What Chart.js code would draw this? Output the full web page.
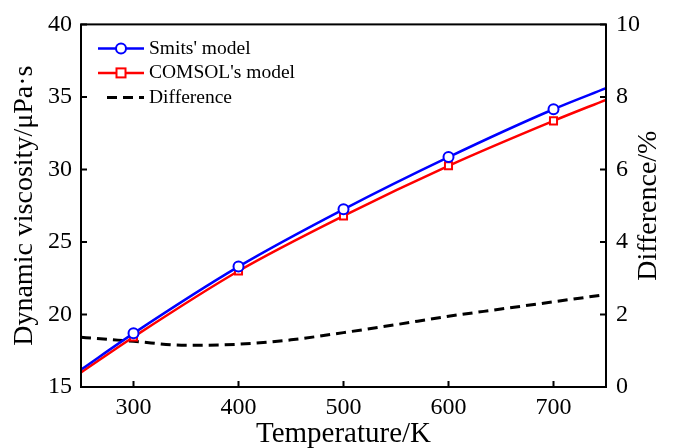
<!DOCTYPE html>
<html lang="en">
<head>
  <meta charset="UTF-8">
  <title>Dynamic viscosity vs temperature</title>
  <style>
    body { margin: 0; background: #fff; }
    .chart-box { width: 686px; height: 448px; }
  </style>
</head>
<body>
  <div class="chart-box"><canvas id="viscChart"></canvas></div>

  <script src="https://cdn.jsdelivr.net/npm/chart.js"></script>
  <script>
    // temperatures (K) and viscosities (uPa.s)
    const modelTemps = [250, 300, 400, 500, 600, 700, 750];
    const smitsVals = [16.2, 18.7, 23.3, 27.25, 30.85, 34.15, 35.6];
    const comsolVals = [16.0, 18.45, 23.0, 26.8, 30.25, 33.35, 34.8];
    const markerTemps = [300, 400, 500, 600, 700];

    // difference in %
    const diffTemps = [250, 300, 350, 400, 450, 500, 550, 600, 650, 700, 750];
    const diffVals = [1.37, 1.26, 1.15, 1.18, 1.3, 1.5, 1.72, 1.95, 2.15, 2.35, 2.55];

    const xTicks = [300, 400, 500, 600, 700];
    const yTicks = [15, 20, 25, 30, 35, 40];
    const y2Ticks = [0, 2, 4, 6, 8, 10];

    const serif = '"Liberation Serif", "Times New Roman", serif';

    const toPoints = (xs, ys) => xs.map((x, i) => ({ x: x, y: ys[i] }));
    const markerSize = ctx => markerTemps.includes(ctx.raw.x) ? 5 : 0;

    // frame, inward ticks and the right axis title (reads bottom to top)
    const framePlugin = {
      id: 'frame',
      afterDraw(chart) {
        const { ctx, chartArea: a, scales } = chart;
        ctx.save();
        ctx.strokeStyle = '#000';
        ctx.lineWidth = 2;
        ctx.strokeRect(a.left, a.top, a.right - a.left, a.bottom - a.top);
        ctx.beginPath();
        scales.x.ticks.forEach(t => {
          const px = scales.x.getPixelForValue(t.value);
          ctx.moveTo(px, a.bottom); ctx.lineTo(px, a.bottom - 6);
        });
        scales.y.ticks.forEach(t => {
          const py = scales.y.getPixelForValue(t.value);
          ctx.moveTo(a.left, py); ctx.lineTo(a.left + 6, py);
        });
        scales.y2.ticks.forEach(t => {
          const py = scales.y2.getPixelForValue(t.value);
          ctx.moveTo(a.right, py); ctx.lineTo(a.right - 6, py);
        });
        ctx.stroke();

        ctx.translate(649, (a.top + a.bottom) / 2);
        ctx.rotate(-Math.PI / 2);
        ctx.fillStyle = '#000';
        ctx.font = '28px ' + serif;
        ctx.textAlign = 'center';
        ctx.textBaseline = 'middle';
        ctx.fillText('Difference/%', 0, 0);
        ctx.restore();
      }
    };

    // legend inside the plot, top left
    const insideLegend = {
      id: 'insideLegend',
      afterDraw(chart) {
        const { ctx, chartArea: a } = chart;
        ctx.save();
        ctx.font = '19.5px ' + serif;
        ctx.textBaseline = 'middle';
        chart.data.datasets.forEach((ds, i) => {
          const y = a.top + 24 + i * 24.5;
          const x0 = a.left + 17, x1 = a.left + 63;
          ctx.strokeStyle = ds.borderColor;
          ctx.lineWidth = ds.borderWidth;
          ctx.setLineDash(ds.borderDash || []);
          ctx.beginPath();
          ctx.moveTo(ds.borderDash ? x0 + 9 : x0, y);
          ctx.lineTo(x1, y);
          ctx.stroke();
          ctx.setLineDash([]);
          const mx = (x0 + x1) / 2;
          if (ds.pointStyle === 'circle') {
            ctx.fillStyle = '#fff';
            ctx.lineWidth = 2;
            ctx.beginPath();
            ctx.arc(mx, y, 5, 0, Math.PI * 2);
            ctx.fill(); ctx.stroke();
          } else if (ds.pointStyle === 'rect') {
            ctx.fillStyle = '#fff';
            ctx.lineWidth = 2;
            ctx.fillRect(mx - 4.5, y - 4.5, 9, 9);
            ctx.strokeRect(mx - 4.5, y - 4.5, 9, 9);
          }
          ctx.fillStyle = '#000';
          ctx.fillText(ds.label, x1 + 5, y);
        });
        ctx.restore();
      }
    };

    new Chart(document.getElementById('viscChart'), {
      type: 'line',
      data: {
        datasets: [{
          label: "Smits' model",
          data: toPoints(modelTemps, smitsVals),
          borderColor: '#0000ff',
          backgroundColor: '#fff',
          borderWidth: 2.5,
          pointStyle: 'circle',
          pointRadius: markerSize,
          pointBorderWidth: 2,
          cubicInterpolationMode: 'monotone',
          yAxisID: 'y'
        }, {
          label: "COMSOL's model",
          data: toPoints(modelTemps, comsolVals),
          borderColor: '#ff0000',
          backgroundColor: '#fff',
          borderWidth: 2.5,
          pointStyle: 'rect',
          pointRadius: markerSize,
          pointBorderWidth: 2,
          cubicInterpolationMode: 'monotone',
          yAxisID: 'y'
        }, {
          label: 'Difference',
          data: toPoints(diffTemps, diffVals),
          borderColor: '#000',
          borderWidth: 3,
          borderDash: [10, 6],
          pointRadius: 0,
          cubicInterpolationMode: 'monotone',
          yAxisID: 'y2'
        }]
      },
      options: {
        responsive: true,
        maintainAspectRatio: false,
        animation: false,
        layout: { padding: { top: 22, left: 0, right: 0, bottom: 0 } },
        plugins: { legend: { display: false }, tooltip: { enabled: false } },
        scales: {
          x: {
            type: 'linear',
            min: 250, max: 750,
            afterBuildTicks: s => { s.ticks = xTicks.map(v => ({ value: v })); },
            afterFit: s => { s.height = 61; },
            grid: { display: false, drawTicks: false },
            border: { display: false },
            ticks: { color: '#000', padding: 6, font: { family: serif, size: 24 } },
            title: { display: true, text: 'Temperature/K', color: '#000', padding: { top: 0, bottom: -4 }, font: { family: serif, size: 29 } }
          },
          y: {
            position: 'left',
            min: 15, max: 40,
            afterBuildTicks: s => { s.ticks = yTicks.map(v => ({ value: v })); },
            afterFit: s => { s.width = 81; },
            grid: { display: false, drawTicks: false },
            border: { display: false },
            ticks: { color: '#000', padding: 9, font: { family: serif, size: 24 } },
            title: { display: true, text: 'Dynamic viscosity/μPa·s', color: '#000', padding: { top: 8, bottom: 0 }, font: { family: serif, size: 28 } }
          },
          y2: {
            position: 'right',
            min: 0, max: 10,
            afterBuildTicks: s => { s.ticks = y2Ticks.map(v => ({ value: v })); },
            afterFit: s => { s.width = 80; },
            grid: { display: false, drawTicks: false },
            border: { display: false },
            ticks: { color: '#000', padding: 10, font: { family: serif, size: 24 } },
            title: { display: false }
          }
        }
      },
      plugins: [framePlugin, insideLegend]
    });
  </script>
</body>
</html>
